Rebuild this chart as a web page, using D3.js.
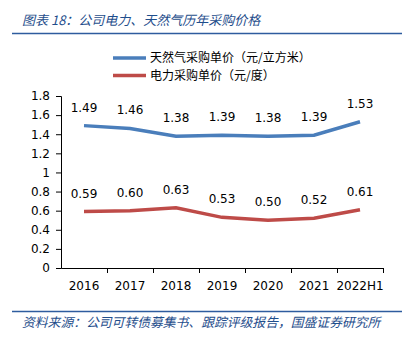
<!DOCTYPE html>
<html><head><meta charset="utf-8">
<script src="https://cdn.jsdelivr.net/npm/d3@7"></script>
<style>body{margin:0;background:#fff}svg{display:block}</style>
</head><body>
<svg id="c" width="405" height="339"></svg>
<script>
const categories = ["2016","2017","2018","2019","2020","2021","2022H1"];
const gasPrice = [1.49,1.46,1.38,1.39,1.38,1.39,1.53];
const powerPrice = [0.59,0.60,0.63,0.53,0.50,0.52,0.61];
const seriesNames = ["天然气采购单价（元/立方米）","电力采购单价（元/度）"];
const yTicks = [0,0.2,0.4,0.6,0.8,1,1.2,1.4,1.6,1.8];
const titleText = "图表 18：公司电力、天然气历年采购价格";
const sourceText = "资料来源：公司可转债募集书、跟踪评级报告，国盛证券研究所";

const svg = d3.select("#c");
const font = "'Noto Sans CJK SC', sans-serif";
const numFont = "'DejaVu Sans', Verdana, sans-serif";
const colors = ["#4A7EBB","#BE4B48"];

// title
svg.append("text").attr("x",22).attr("y",25).attr("font-family",font).attr("font-size",13)
  .attr("font-style","italic").attr("fill","#1F4E8C").text(titleText);
svg.append("line").attr("x1",12).attr("x2",402).attr("y1",33.5).attr("y2",33.5)
  .attr("stroke","#2E5C9E").attr("stroke-width",1.5);

// footer
svg.append("line").attr("x1",12).attr("x2",402).attr("y1",311.5).attr("y2",311.5)
  .attr("stroke","#2E5C9E").attr("stroke-width",1.5);
svg.append("text").attr("x",22).attr("y",327).attr("font-family",font).attr("font-size",12.8)
  .attr("font-style","italic").attr("fill","#1F4E8C").text(sourceText);

const x = d3.scaleBand().domain(categories).range([61,383]);
const y = d3.scaleLinear().domain([0,1.8]).range([268,96]);

// y axis
const ya = svg.append("g").attr("transform","translate(61,0)")
  .call(d3.axisLeft(y).tickValues(yTicks).tickSize(5).tickPadding(6).tickFormat(d=>String(d)));
ya.selectAll("text").attr("font-family",numFont).attr("font-size",12).attr("fill","#000");
ya.selectAll("line,path").attr("stroke","#000");

// x axis
const xa = svg.append("g").attr("transform","translate(0,268)")
  .call(d3.axisBottom(x).tickSize(0).tickPadding(13));
xa.selectAll("text").attr("font-family",numFont).attr("font-size",12).attr("fill","#000");
xa.select("path").attr("stroke","#000");
// boundary tick marks
xa.selectAll(".bt").data(categories.slice(1).concat(["_end"])).enter().append("line")
  .attr("x1",(d,i)=>61+(i+1)*x.step()+0.5).attr("x2",(d,i)=>61+(i+1)*x.step()+0.5)
  .attr("y1",0).attr("y2",5).attr("stroke","#000");

const series = [gasPrice, powerPrice];
const line = d3.line().x((d,i)=>x(categories[i])+x.bandwidth()/2).y(d=>y(d));
series.forEach((s,k)=>{
  svg.append("path").attr("d",line(s)).attr("fill","none").attr("stroke",colors[k])
    .attr("stroke-width",3.5);
  svg.selectAll(".lbl"+k).data(s).enter().append("text")
    .attr("x",(d,i)=>x(categories[i])+x.bandwidth()/2)
    .attr("y",d=>y(d)-14)
    .attr("text-anchor","middle").attr("font-family",numFont).attr("font-size",12)
    .attr("fill","#000").text(d=>d.toFixed(2));
});

// legend
seriesNames.forEach((n,k)=>{
  const ly = 58 + k*17.5;
  svg.append("line").attr("x1",113).attr("x2",146).attr("y1",ly).attr("y2",ly)
    .attr("stroke",colors[k]).attr("stroke-width",3.5);
  svg.append("text").attr("x",150).attr("y",ly+4.3).attr("font-family",font)
    .attr("font-size",12).attr("fill","#000").text(n);
});
</script>
</body></html>
